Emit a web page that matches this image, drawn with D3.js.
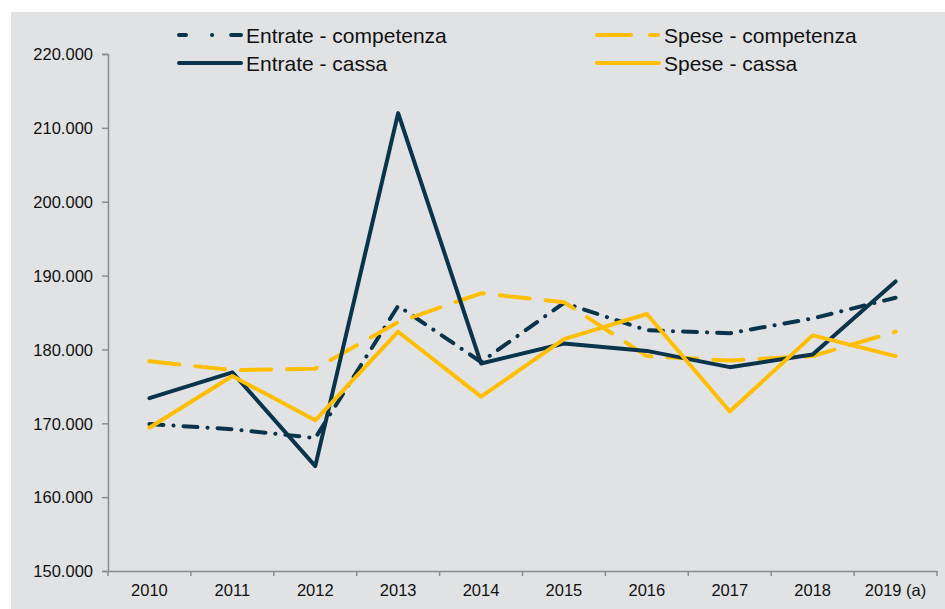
<!DOCTYPE html>
<html>
<head>
<meta charset="utf-8">
<script src="https://cdn.jsdelivr.net/npm/d3@7"></script>
<style>
  body { margin: 0; background: #ffffff; }
  svg { display: block; }
</style>
</head>
<body>
<svg id="chart"></svg>
<script>
// Size of the picture
const width = 945;
const height = 609;

// Data (thousands)
const years = ["2010", "2011", "2012", "2013", "2014", "2015", "2016", "2017", "2018", "2019 (a)"];
const entrateCompetenza = [169.9, 169.2, 168.0, 185.9, 178.3, 186.3, 182.6, 182.2, 184.2, 187.0];
const speseCompetenza = [178.4, 177.2, 177.4, 183.7, 187.6, 186.4, 179.1, 178.5, 179.1, 182.4];
const entrateCassa = [173.4, 176.9, 164.2, 212.0, 178.1, 180.8, 179.8, 177.6, 179.3, 189.2];
const speseCassa = [169.4, 176.4, 170.4, 182.4, 173.6, 181.4, 184.8, 171.6, 181.9, 179.1];
const yTicks = [150, 160, 170, 180, 190, 200, 210, 220];

const navy = "#0a344b";
const gold = "#ffbf00";

// Series in the order they are drawn (and laid out in the legend)
const series = [
    { name: "Entrate - competenza", values: entrateCompetenza, color: navy, dash: "14,10,0.1,10", legendDash: "7,26,0.1,19,12" },
    { name: "Spese - competenza", values: speseCompetenza, color: gold, dash: "30,16", legendDash: "34,19,8" },
    { name: "Entrate - cassa", values: entrateCassa, color: navy, dash: null, legendDash: null },
    { name: "Spese - cassa", values: speseCassa, color: gold, dash: null, legendDash: null }
];

const svg = d3.select("#chart")
    .attr("width", width)
    .attr("height", height);

// Gray panel
svg.append("rect")
    .attr("x", 11)
    .attr("y", 12)
    .attr("width", width - 11)
    .attr("height", height - 12)
    .attr("fill", "#e1e2e4");

// Scales
const x = d3.scaleBand()
    .domain(years)
    .range([108, 937]);

const y = d3.scaleLinear()
    .domain([150, 220])
    .range([571, 54]);

// Y axis
const yAxis = svg.append("g")
    .attr("transform", "translate(108,0)")
    .call(d3.axisLeft(y)
        .tickValues(yTicks)
        .tickSize(6)
        .tickPadding(9)
        .tickFormat(d => d + ".000"));

// X axis (ticks at band boundaries)
const xAxis = svg.append("g")
    .attr("transform", "translate(0,571)");

xAxis.call(d3.axisBottom(x).tickSize(0).tickPadding(13));

const boundaries = years.map(d => x(d)).concat([x.range()[1]]);
xAxis.selectAll(".boundary")
    .data(boundaries)
    .enter().append("line")
    .attr("class", "boundary")
    .attr("x1", d => d)
    .attr("x2", d => d)
    .attr("y1", 0)
    .attr("y2", 5);

[yAxis, xAxis].forEach(a => {
    a.select(".domain").attr("stroke", "#8c8c8c").attr("stroke-width", 1.5);
    a.selectAll("line").attr("stroke", "#8c8c8c").attr("stroke-width", 1.5);
    a.selectAll("text")
        .attr("fill", "#111")
        .style("font-family", "'Liberation Sans', Arial, sans-serif")
        .style("font-size", "16.5px");
});
yAxis.selectAll(".tick text").attr("dy", "0.35em");

// Lines
const line = d3.line()
    .x((d, i) => x(years[i]) + x.bandwidth() / 2)
    .y(d => y(d));

svg.append("g")
    .selectAll("path")
    .data(series)
    .enter().append("path")
    .attr("d", d => line(d.values))
    .attr("fill", "none")
    .attr("stroke", d => d.color)
    .attr("stroke-width", 4)
    .attr("stroke-linecap", "round")
    .attr("stroke-linejoin", "round")
    .attr("stroke-dasharray", d => d.dash);

// Legend: two columns, two rows
const legend = svg.append("g")
    .selectAll("g")
    .data(series)
    .enter().append("g")
    .attr("transform", (d, i) => `translate(${i % 2 === 0 ? 179 : 597},${i < 2 ? 35 : 63})`);

legend.append("line")
    .attr("x1", 0)
    .attr("x2", 62)
    .attr("stroke", d => d.color)
    .attr("stroke-width", 4)
    .attr("stroke-linecap", "round")
    .attr("stroke-dasharray", d => d.legendDash);

legend.append("text")
    .attr("x", 67)
    .attr("dy", "0.36em")
    .text(d => d.name)
    .attr("fill", "#111")
    .style("font-family", "'Liberation Sans', Arial, sans-serif")
    .style("font-size", "21px");
</script>
</body>
</html>
